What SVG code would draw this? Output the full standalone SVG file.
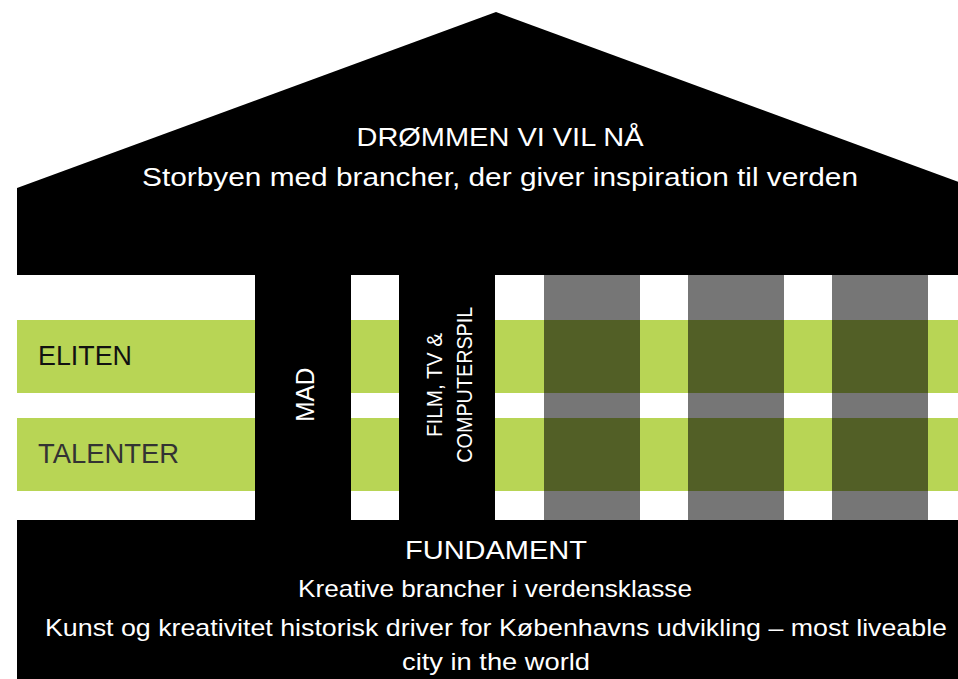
<svg xmlns="http://www.w3.org/2000/svg" width="958" height="679" viewBox="0 0 958 679">
<style>
text{font-family:"Liberation Sans","DejaVu Sans",sans-serif;}
.w{fill:#ffffff;}
.band{fill:#b8d555;}
.gray{fill:#767676;}
.olive{fill:#525f26;}
.blk{fill:#000000;}
</style>
<rect x="0" y="0" width="958" height="679" fill="#ffffff"/>
<g id="band-eliten">
<rect class="band" x="17" y="320" width="941" height="73"/>
<text x="38" y="365" font-size="28" fill="#111111" textLength="94" lengthAdjust="spacingAndGlyphs">ELITEN</text>
</g>
<g id="band-talenter">
<rect class="band" x="17" y="418" width="941" height="73"/>
<text x="38" y="463" font-size="28" fill="#333333" textLength="141" lengthAdjust="spacingAndGlyphs">TALENTER</text>
</g>
<g id="gray-columns">
<rect class="gray" x="544" y="275" width="96" height="245"/>
<rect class="gray" x="688" y="275" width="96" height="245"/>
<rect class="gray" x="832" y="275" width="96" height="245"/>
<rect class="olive" x="544" y="320" width="96" height="73"/>
<rect class="olive" x="688" y="320" width="96" height="73"/>
<rect class="olive" x="832" y="320" width="96" height="73"/>
<rect class="olive" x="544" y="418" width="96" height="73"/>
<rect class="olive" x="688" y="418" width="96" height="73"/>
<rect class="olive" x="832" y="418" width="96" height="73"/>
</g>
<g id="column-mad">
<rect class="blk" x="255" y="270" width="96" height="255"/>
<text class="w" transform="translate(314,394.7) rotate(-90)" text-anchor="middle" font-size="25" textLength="54" lengthAdjust="spacingAndGlyphs">MAD</text>
</g>
<g id="column-film">
<rect class="blk" x="399" y="270" width="96" height="255"/>
<text class="w" transform="translate(441.5,385) rotate(-90)" text-anchor="middle" font-size="22" textLength="104" lengthAdjust="spacingAndGlyphs">FILM, TV &amp;</text>
<text class="w" transform="translate(471.5,384.7) rotate(-90)" text-anchor="middle" font-size="22" textLength="156" lengthAdjust="spacingAndGlyphs">COMPUTERSPIL</text>
</g>
<g id="roof">
<polygon class="blk" points="17,188 496,12 958,181.8 958,275 17,275"/>
<text class="w" x="500" y="146" text-anchor="middle" font-size="26" textLength="287" lengthAdjust="spacingAndGlyphs">DRØMMEN VI VIL NÅ</text>
<text class="w" x="500" y="186" text-anchor="middle" font-size="25" textLength="716" lengthAdjust="spacingAndGlyphs">Storbyen med brancher, der giver inspiration til verden</text>
</g>
<g id="foundation">
<rect class="blk" x="17" y="520" width="941" height="159"/>
<text class="w" x="496" y="559" text-anchor="middle" font-size="25" textLength="182" lengthAdjust="spacingAndGlyphs">FUNDAMENT</text>
<text class="w" x="495" y="597" text-anchor="middle" font-size="24" textLength="394" lengthAdjust="spacingAndGlyphs">Kreative brancher i verdensklasse</text>
<text class="w" x="496" y="636" text-anchor="middle" font-size="24" textLength="902" lengthAdjust="spacingAndGlyphs">Kunst og kreativitet historisk driver for Københavns udvikling – most liveable</text>
<text class="w" x="496" y="670" text-anchor="middle" font-size="24" textLength="188" lengthAdjust="spacingAndGlyphs">city in the world</text>
</g>
</svg>
